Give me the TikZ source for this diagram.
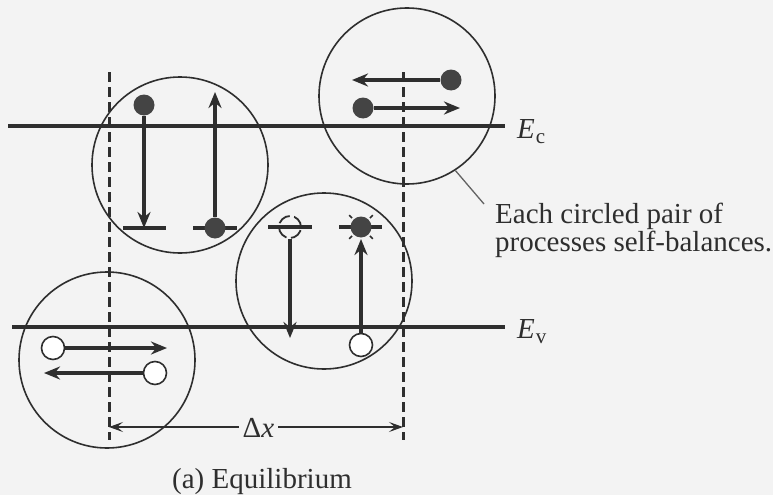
\documentclass[tikz,border=0pt]{standalone}
\usepackage{fontspec}
\setmainfont{Liberation Serif}
\usetikzlibrary{arrows.meta}
\definecolor{ink}{HTML}{2E2E2E}
\definecolor{dotc}{HTML}{444444}
\definecolor{paper}{HTML}{F3F3F3}
\begin{document}
\begin{tikzpicture}[x=1pt,y=-1pt,
  band/.style={ink, line width=3.4pt},
  ring/.style={draw=ink, circle, line width=1.6pt, minimum size=176pt, inner sep=0pt},
  guide/.style={ink, line width=3pt, dash pattern=on 10pt off 5pt},
  proc/.style={ink, line width=3.2pt, -{Stealth[length=16pt,width=13pt]}},
  edot/.style={circle, fill=dotc, draw=none, minimum size=21pt, inner sep=0pt},
  hole/.style={circle, fill=white, draw=ink, line width=1.6pt, minimum size=23pt, inner sep=0pt},
  ghost/.style={circle, draw=ink, line width=1.8pt, dash pattern=on 13pt off 4.5pt, minimum size=22pt, inner sep=0pt},
  lvl/.style={ink, line width=3.4pt},
  ray/.style={ink, line width=1.6pt},
  dim/.style={ink, line width=1.4pt, -{Stealth[length=14pt,width=10pt,inset=6pt]}},
  lead/.style={ink!75, line width=1.3pt},
  txt/.style={font=\fontsize{29}{28}\selectfont, inner sep=0pt, text=ink},
  ]
\fill[paper] (0,0) rectangle (773,495);
\useasboundingbox (0,0) rectangle (773,495);

% circles
\node[ring] (c1) at (180,165) {};
\node[ring] (c2) at (324,281) {};
\node[ring] (c3) at (407,96) {};
\node[ring] (c4) at (107,360) {};

% band edges
\coordinate (EcL) at (8,126);
\coordinate (EcR) at (505,126);
\coordinate (EvL) at (12,327);
\coordinate (EvR) at (505,327);
\draw[band] (EcL) -- (EcR);
\draw[band] (EvL) -- (EvR);
\node[txt, anchor=base west] (Ec) at (517,138) {\textit{E}\kern1pt\raisebox{-5pt}{\fontsize{21}{21}\selectfont c}};
\node[txt, anchor=base west] (Ev) at (517,338) {\textit{E}\kern1pt\raisebox{-5pt}{\fontsize{21}{21}\selectfont v}};

% dashed guides
\coordinate (gLt) at (109,72);
\coordinate (gLb) at (109,440);
\coordinate (gRt) at (403,72);
\coordinate (gRb) at (403,440);
\draw[guide] (gLt) -- (gLb);
\draw[guide] (gRt) -- (gRb);

% circle 1
\coordinate (t1L) at (123,228);
\coordinate (t1R) at (166,228);
\coordinate (t2L) at (193,228);
\coordinate (t2R) at (237,228);
\draw[lvl] (t1L) -- (t1R);
\draw[lvl] (t2L) -- (t2R);
\node[edot] (d1) at (144,105) {};
\coordinate (a1) at (144,228);
\draw[proc] (d1.south) -- (a1);
\node[edot] (d2) at (215,228) {};
\coordinate (a2) at (215,92);
\draw[proc] (d2.north) -- (a2);

% circle 2
\coordinate (t3L) at (268,227);
\coordinate (t3R) at (312,227);
\coordinate (t4L) at (339,227);
\coordinate (t4R) at (382,227);
\draw[lvl] (t3L) -- (t3R);
\draw[lvl] (t4L) -- (t4R);
\node[ghost] (g1) at (290,227) {};
\coordinate (a3) at (290,338);
\draw[proc] (g1.south) -- (a3);
\node[edot] (d3) at (361,227) {};
\foreach \a in {45,135,225,315}
  \draw[ray] (d3.\a) ++(\a:2pt) -- ++(\a:4pt);
\node[hole] (h3) at (361,345) {};
\coordinate (a4) at (361,239);
\draw[proc] (h3.north) -- (a4);

% circle 3
\node[edot] (d4) at (451,80) {};
\coordinate (a5) at (352,80);
\draw[proc] (d4.west) -- (a5);
\node[edot] (d5) at (363,108) {};
\coordinate (a6) at (460,108);
\draw[proc] (d5.east) -- (a6);

% circle 4
\node[hole] (h1) at (53,348) {};
\coordinate (a7) at (167,348);
\draw[proc] (h1.east) -- (a7);
\node[hole] (h2) at (155,373) {};
\coordinate (a8) at (44,373);
\draw[proc] (h2.west) -- (a8);

% delta x
\coordinate (dL) at (109,427);
\coordinate (dR) at (403,427);
\node[txt, anchor=base] (dx) at (258.5,437) {Δ\textit{x}};
\draw[dim] ([xshift=-4pt]dx.west |- dL) -- (dL);
\draw[dim] ([xshift=4pt]dx.east |- dR) -- (dR);

% annotation
\node[txt, anchor=north west, align=left] (note) at (495,203) {Each circled pair of\\processes self-balances.};
\coordinate (leadEnd) at (484,204);
\draw[lead] (c3.-57) -- (leadEnd);

% caption
\node[txt, anchor=base west] (cap) at (172,488) {(a) Equilibrium};
\end{tikzpicture}
\end{document}
